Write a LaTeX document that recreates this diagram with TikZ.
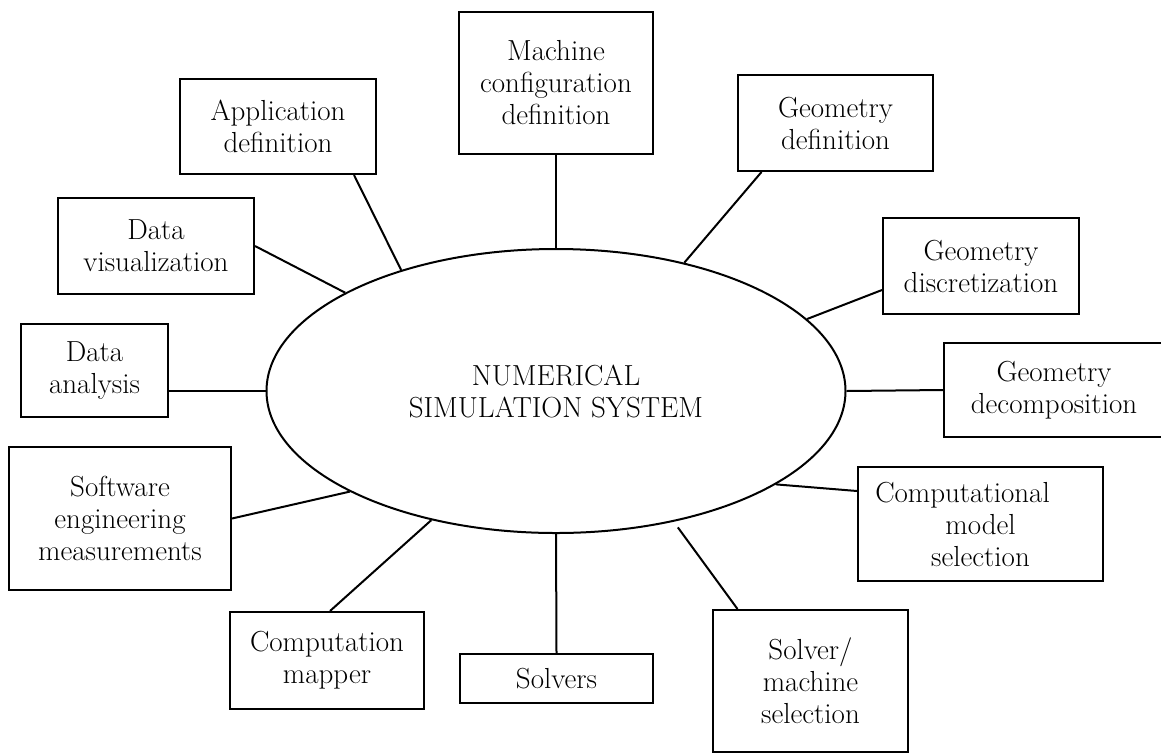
\documentclass[tikz,border=0pt]{standalone}
\usepackage{fontspec}
\usetikzlibrary{shapes.geometric,calc}
\begin{document}
\begin{tikzpicture}[x=1pt,y=-1pt,
  lbl/.style={font=\fontsize{29}{32}\selectfont},
  box/.style={lbl,draw,line width=2pt,inner sep=0pt,align=center},
  link/.style={line width=2pt},
]
\useasboundingbox (0,0) rectangle (1161,753);
% central ellipse
\node[lbl,draw,line width=2pt,ellipse,minimum width=579pt,minimum height=284pt,inner sep=0pt,align=center] (ell) at (556,391) {NUMERICAL\\SIMULATION SYSTEM};
% boxes
\node[box,minimum width=194pt,minimum height=142pt] (mach) at (556,83) {Machine\\configuration\\definition};
\node[box,minimum width=196pt,minimum height=95pt] (app) at (278,126.5) {Application\\definition};
\node[box,minimum width=195pt,minimum height=96pt] (gdef) at (835.5,123) {Geometry\\definition};
\node[box,minimum width=196pt,minimum height=96pt] (dv) at (156,246) {Data\\visualization};
\node[box,minimum width=196pt,minimum height=96pt] (disc) at (981,266) {Geometry\\discretization};
\node[box,minimum width=147pt,minimum height=93pt] (da) at (94.5,370.5) {Data\\analysis};
\node[box,minimum width=220pt,minimum height=94pt] (dec) at (1054,390) {Geometry\\decomposition};
\node[box,minimum width=222pt,minimum height=143pt] (sw) at (120,518.5) {Software\\engineering\\measurements};
\node[box,minimum width=245pt,minimum height=114pt] (cm) at (980.5,524) {Computational\hspace*{36pt}\\model\\selection};
\node[box,minimum width=194pt,minimum height=97pt] (map) at (327,660.5) {Computation\\mapper};
\node[box,minimum width=193pt,minimum height=49pt] (sol) at (556.5,678.5) {Solvers};
\node[box,minimum width=195pt,minimum height=142pt] (smsel) at (810.5,681) {Solver/\\machine\\selection};
% connectors
\draw[link] (mach.south) -- (ell.north);
\draw[link] ([xshift=76pt]app.south) -- (ell.142);
\draw[link] (dv.east) -- (ell.155);
\draw[link] (ell.west) -- (ell.west -| da.east);
\draw[link] (sw.east) -- (ell.206);
\draw[link] ([xshift=3pt]map.north) -- (ell.226);
\draw[link] (sol.north) -- (ell.south);
\draw[link,shorten <=7pt] (ell.312) -- ([xshift=-73pt]smsel.north);
\draw[link] (ell.337) -- ([yshift=33pt]cm.west);
\draw[link] (ell.east) -- (dec.west);
\draw[link] (ell.16) -- ([yshift=-24pt]disc.west);
\draw[link] (ell.45) -- ([xshift=-74pt]gdef.south);
\end{tikzpicture}
\end{document}
